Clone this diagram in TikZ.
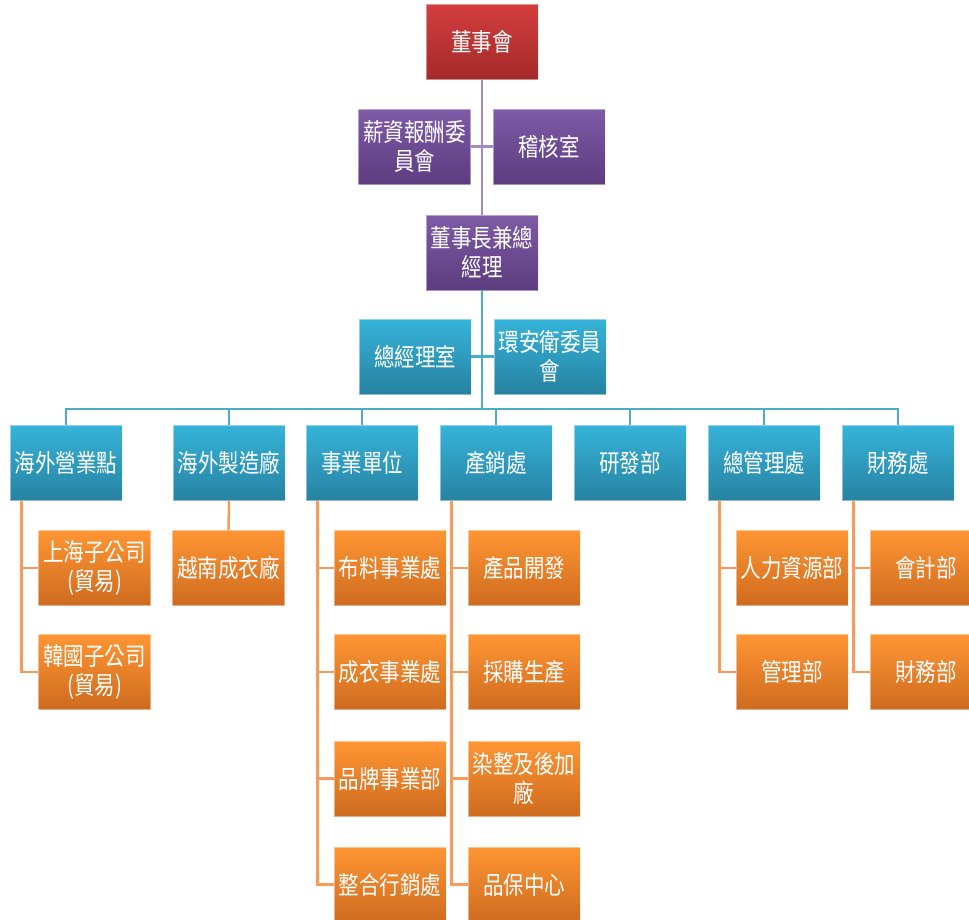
\documentclass[tikz,border=0pt]{standalone}
\usepackage{fontspec}
\setmainfont{Noto Sans CJK TC}[FakeStretch=0.82]
\definecolor{redT}{HTML}{D33D3D}
\definecolor{redB}{HTML}{A42A2A}
\definecolor{purT}{HTML}{7E5BA6}
\definecolor{purB}{HTML}{5D3C7F}
\definecolor{tealT}{HTML}{36B3D9}
\definecolor{tealB}{HTML}{2782A1}
\definecolor{oraT}{HTML}{FF9533}
\definecolor{oraB}{HTML}{CE6B1F}
\definecolor{plinec}{HTML}{9F8AC2}
\definecolor{tlinec}{HTML}{4BACC6}
\definecolor{olinec}{HTML}{F79B5A}
\tikzset{
  bx/.style={minimum width=112pt, minimum height=75pt, inner sep=1pt, text=white,
    font=\fontsize{25}{29}\selectfont, align=center, draw=white, draw opacity=0.45, line width=0.6pt},
  redbox/.style={bx, top color=redT, bottom color=redB},
  purbox/.style={bx, top color=purT, bottom color=purB},
  tealbox/.style={bx, top color=tealT, bottom color=tealB},
  orabox/.style={bx, top color=oraT, bottom color=oraB},
  pline/.style={draw=plinec, line width=2.5pt},
  tline/.style={draw=tlinec, line width=2.5pt},
  oline/.style={draw=olinec, line width=2.5pt},
}
\begin{document}
\begin{tikzpicture}[x=1pt,y=-1pt]
\useasboundingbox[fill=white] (0,0) rectangle (969,919);
% top levels
\node[redbox] (dsh) at (482,42) {董事會};
\node[purbox] (xc) at (414.5,146.5) {薪資報酬委\\員會};
\node[purbox] (jh) at (549,146.5) {稽核室};
\node[purbox] (dz) at (482,252.5) {董事長兼總\\經理};
\node[tealbox] (zj) at (415,356.5) {總經理室};
\node[tealbox] (ha) at (550,356.5) {環安衛委員\\會};
% level 3
\node[tealbox] (hw) at (66,463) {海外營業點};
\node[tealbox] (hz) at (229,463) {海外製造廠};
\node[tealbox] (sy) at (362,463) {事業單位};
\node[tealbox] (cx) at (496,463) {產銷處};
\node[tealbox] (yf) at (630,463) {研發部};
\node[tealbox] (zg) at (764,463) {總管理處};
\node[tealbox] (cw) at (898,463) {財務處};
% children
\node[orabox] (hw1) at (94.5,568) {上海子公司\\(貿易)};
\node[orabox] (hw2) at (94.5,672) {韓國子公司\\(貿易)};
\node[orabox] (hz1) at (228.5,568) {越南成衣廠};
\node[orabox] (sy1) at (390,568) {布料事業處};
\node[orabox] (sy2) at (390,672) {成衣事業處};
\node[orabox] (sy3) at (390,778.5) {品牌事業部};
\node[orabox] (sy4) at (390,884.5) {整合行銷處};
\node[orabox] (cx1) at (524,568) {產品開發};
\node[orabox] (cx2) at (524,672) {採購生產};
\node[orabox] (cx3) at (524,778.5) {染整及後加\\廠};
\node[orabox] (cx4) at (524,884.5) {品保中心};
\node[orabox] (zg1) at (792,568) {人力資源部};
\node[orabox] (zg2) at (792,672) {管理部};
\node[orabox] (cw1) at (926,568) {會計部};
\node[orabox] (cw2) at (926,672) {財務部};
% connectors
\coordinate (bus) at (482,409);
\draw[pline] (dsh.south) -- (dz.north);
\draw[pline] (xc.east) -- (jh.west);
\draw[tline] (dz.south) -- (bus);
\draw[tline] (zj.east) -- (ha.west);
\draw[tline] (hw.north) |- (bus) -| (cw.north);
\foreach \n in {hz,sy,cx,yf,zg} \draw[tline] (bus) -| (\n.north);
\draw[oline] (hz.south) -- (hz1.north);
\foreach \p/\c in {hw/hw1,hw/hw2,sy/sy1,sy/sy2,sy/sy3,sy/sy4,cx/cx1,cx/cx2,cx/cx3,cx/cx4,zg/zg1,zg/zg2,cw/cw1,cw/cw2}
  \draw[oline] ([xshift=12pt]\p.south west) |- (\c.west);
\end{tikzpicture}
\end{document}
